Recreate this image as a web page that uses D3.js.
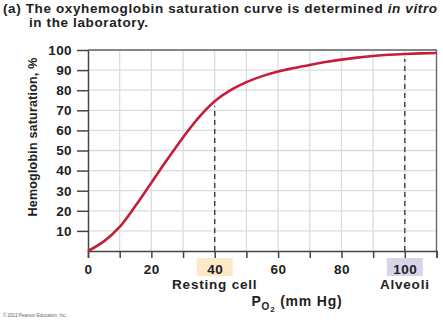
<!DOCTYPE html>
<html><head><meta charset="utf-8">
<script src="https://cdn.jsdelivr.net/npm/d3@7"></script>
<style>body{margin:0;background:#fff}svg{display:block}text{font-family:"Liberation Sans",Arial,sans-serif}</style>
</head><body><svg id="c" width="443" height="323"></svg>
<script>
const po2 = [0,5,10,15,20,25,30,35,40,45,50,55,60,65,70,75,80,85,90,95,100,105,110];
const saturation = [0,4.8,12,22.5,34,45.5,56.5,66.5,74.5,80,84,87,89.3,91,92.5,94,95.2,96.2,97,97.6,98,98.3,98.5];
const xTicks = [0,20,40,60,80,100];
const yTicks = [10,20,30,40,50,60,70,80,90,100];
const markers = [{x:40, label:"Resting cell", fill:"#fde8c8"},{x:100, label:"Alveoli", fill:"#d8d4ea"}];

const svg = d3.select("#c");
const x = d3.scaleLinear().domain([0,110]).range([88,436.5]);
const y = d3.scaleLinear().domain([0,100]).range([251,50]);

// title
const t = svg.append("text").attr("x",3).attr("y",13).attr("font-size",13.5).attr("font-weight","bold").attr("fill","#222").attr("letter-spacing",0.62);
t.append("tspan").attr("font-weight",900).text("(a) ");
t.append("tspan").text("The oxyhemoglobin saturation curve is determined ");
t.append("tspan").attr("font-style","italic").text("in vitro");
svg.append("text").attr("x",29).attr("y",27).attr("font-size",13.5).attr("font-weight","bold").attr("fill","#222").attr("letter-spacing",0.62).text("in the laboratory.");

// grid
const g = svg.append("g");
g.selectAll(".vg").data(d3.range(10,111,10)).enter().append("line")
 .attr("x1",d=>x(d)).attr("x2",d=>x(d)).attr("y1",y(0)).attr("y2",y(100)).attr("stroke","#dcdcdc").attr("stroke-width",1.3);
g.selectAll(".hg").data(yTicks).enter().append("line")
 .attr("x1",x(0)).attr("x2",x(110)).attr("y1",d=>y(d)).attr("y2",d=>y(d)).attr("stroke","#dcdcdc").attr("stroke-width",1.3);
// border top/right
svg.append("path").attr("d",`M${x(0)},${y(100)}H${x(110)}V${y(0)}`).attr("fill","none").attr("stroke","#666").attr("stroke-width",1.3);

// dashed marker lines
const interp = v => saturation[po2.indexOf(v)];
svg.selectAll(".dl").data(markers).enter().append("line")
 .attr("x1",d=>x(d.x)).attr("x2",d=>x(d.x)).attr("y1",y(0)).attr("y2",d=>y(interp(d.x))+5)
 .attr("stroke","#333").attr("stroke-width",1.3).attr("stroke-dasharray","5,4");

// highlight boxes
svg.selectAll(".hb").data(markers).enter().append("rect")
 .attr("x",d=>x(d.x)-18).attr("y",258).attr("width",36).attr("height",18).attr("fill",d=>d.fill);

// axes
const xAxis = d3.axisBottom(x).tickValues(d3.range(0,111,10)).tickSize(7).tickFormat(d=>xTicks.includes(d)?d:"").tickPadding(6);
const xa = svg.append("g").attr("transform",`translate(0,${y(0)})`).call(xAxis);
xa.select(".domain").attr("stroke","#444").attr("stroke-width",1.5);
xa.selectAll(".tick line").attr("stroke","#444").attr("stroke-width",1.5);
xa.selectAll(".tick text").attr("font-size",13.5).attr("font-weight","bold").attr("fill","#222").attr("letter-spacing",0.5).attr("font-family","Liberation Sans, Arial, sans-serif");

const yAxis = d3.axisLeft(y).tickValues(yTicks).tickSize(11).tickPadding(5).tickSizeOuter(0);
const ya = svg.append("g").attr("transform",`translate(${x(0)},0)`).call(yAxis);
ya.select(".domain").attr("stroke","#444").attr("stroke-width",1.5);
ya.selectAll(".tick line").attr("stroke","#444").attr("stroke-width",1.5);
ya.selectAll(".tick text").attr("font-size",13.5).attr("font-weight","bold").attr("fill","#222").attr("letter-spacing",0.4).attr("font-family","Liberation Sans, Arial, sans-serif");

// curve
const line = d3.line().x((d,i)=>x(po2[i])).y(d=>y(d)).curve(d3.curveCatmullRom);
svg.append("path").datum(saturation).attr("d",line).attr("fill","none").attr("stroke","#c41e3a").attr("stroke-width",2.6);

// marker labels
svg.selectAll(".ml").data(markers).enter().append("text")
 .attr("x",d=>x(d.x)).attr("y",289).attr("text-anchor","middle").attr("font-size",13.5).attr("font-weight","bold").attr("fill","#222").attr("letter-spacing",0.8).text(d=>d.label);

// axis titles
const xt = svg.append("text").attr("x",297).attr("y",306).attr("text-anchor","middle").attr("font-size",14).attr("font-weight","bold").attr("fill","#222").attr("letter-spacing",0.8);
xt.append("tspan").text("P");
xt.append("tspan").attr("font-size",10).attr("dy",4).text("O");
xt.append("tspan").attr("font-size",8).attr("dy",2).text("2");
xt.append("tspan").attr("dy",-6).text(" (mm Hg)");

svg.append("text").attr("transform","translate(37,137) rotate(-90)").attr("text-anchor","middle").attr("font-size",12.5).attr("font-weight","bold").attr("fill","#222").attr("letter-spacing",0.2).text("Hemoglobin saturation, %");

svg.append("text").attr("x",3).attr("y",317).attr("font-size",4.5).attr("fill","#666").text("© 2013 Pearson Education, Inc.");
</script></body></html>
